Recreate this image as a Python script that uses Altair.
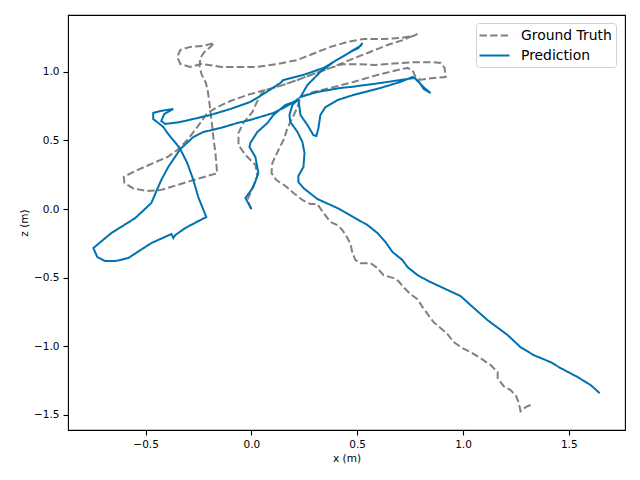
import altair as alt
import pandas as pd
import numpy as np

# Ground truth trajectory (x, z in metres)
gt_x = [0.000, -0.019, 0.005, 0.028, 0.019, -0.028, -0.061, -0.061, -0.038, 0.005, 0.024, 0.045,
        0.066, 0.137, 0.218, 0.293, 0.374, 0.454, 0.549, 0.643, 0.719, 0.785,
        0.766, 0.705, 0.624, 0.530, 0.454, 0.374, 0.312, 0.218, 0.123, 0.028, -0.052, -0.142,
        -0.237, -0.289, -0.336, -0.350, -0.336, -0.289, -0.227, -0.175,
        -0.194, -0.222, -0.241, -0.245, -0.235, -0.215, -0.205, -0.198, -0.192, -0.185, -0.178,
        -0.170, -0.165, -0.162,
        -0.208, -0.274, -0.350, -0.430, -0.492, -0.558, -0.600, -0.603, -0.539, -0.464, -0.397,
        -0.350, -0.303, -0.255, -0.208, -0.161, -0.099, -0.019, 0.066,
        0.137, 0.218, 0.293, 0.374,
        0.430, 0.500, 0.580, 0.670, 0.770, 0.860, 0.895, 0.913, 0.918, 0.861, 0.799, 0.776,
        0.762, 0.738, 0.691, 0.596, 0.482, 0.374, 0.293, 0.232,
        0.218, 0.194, 0.170, 0.156, 0.128, 0.099, 0.095, 0.118, 0.161, 0.199, 0.241, 0.279,
        0.312, 0.341, 0.374, 0.407, 0.430, 0.454, 0.468, 0.478, 0.492, 0.516, 0.563, 0.596,
        0.624, 0.672, 0.695, 0.719, 0.752, 0.785, 0.809, 0.833, 0.861, 0.894, 0.927, 0.956,
        0.998, 1.036, 1.083, 1.131, 1.164, 1.164, 1.192, 1.225, 1.249, 1.263, 1.272, 1.296, 1.329]
gt_z = [0.000, 0.066, 0.153, 0.241, 0.321, 0.394, 0.466, 0.554, 0.627, 0.707, 0.773, 0.835,
        0.867, 0.897, 0.940, 0.984, 1.028, 1.079, 1.137, 1.195, 1.232, 1.276,
        1.261, 1.246, 1.239, 1.239, 1.217, 1.181, 1.144, 1.086, 1.057, 1.035, 1.035, 1.035,
        1.057, 1.035, 1.057, 1.108, 1.159, 1.181, 1.188, 1.210,
        1.181, 1.144, 1.101, 1.040, 0.980, 0.920, 0.850, 0.770, 0.690, 0.600, 0.500,
        0.410, 0.320, 0.260,
        0.241, 0.211, 0.175, 0.138, 0.131, 0.150, 0.190, 0.235, 0.284, 0.335, 0.379,
        0.430, 0.503, 0.598, 0.700, 0.743, 0.787, 0.831, 0.867,
        0.897, 0.940, 0.984, 1.028,
        1.055, 1.055, 1.050, 1.060, 1.070, 1.070, 1.064, 1.028, 0.962, 0.955, 0.942, 0.962,
        1.010, 1.028, 1.013, 0.977, 0.926, 0.882, 0.853, 0.816,
        0.743, 0.664, 0.590, 0.517, 0.430, 0.335, 0.262, 0.211, 0.168, 0.117, 0.066, 0.036,
        0.036, -0.029, -0.095, -0.117, -0.153, -0.211, -0.255, -0.321, -0.372, -0.394, -0.394, -0.430,
        -0.481, -0.503, -0.525, -0.569, -0.620, -0.656, -0.714, -0.765, -0.824, -0.867, -0.911, -0.969,
        -1.013, -1.042, -1.086, -1.137, -1.188, -1.232, -1.290, -1.319, -1.356, -1.407, -1.472, -1.443, -1.421]

# Predicted trajectory (x, z in metres)
pred_x = [0.000, -0.028, 0.009, 0.033, 0.019, -0.009, -0.005, 0.028, 0.076, 0.104, 0.161, 0.199, 0.222,
          0.232, 0.265, 0.293, 0.307, 0.317, 0.326, 0.350, 0.407, 0.482, 0.610, 0.705, 0.762,
          0.790, 0.814, 0.847, 0.818, 0.771, 0.705, 0.610, 0.468, 0.421, 0.312, 0.232,
          0.265, 0.326, 0.388, 0.445, 0.482, 0.516, 0.525,
          0.506, 0.468, 0.421, 0.341, 0.246, 0.151, 0.137, 0.057, -0.005, -0.099, -0.194, -0.255,
          -0.336, -0.407, -0.426, -0.412, -0.369, -0.430, -0.464, -0.464, -0.440, -0.416, -0.397,
          -0.350, -0.336, -0.303, -0.274, -0.251, -0.213, -0.241, -0.312, -0.360, -0.369, -0.378,
          -0.473, -0.582, -0.643, -0.691, -0.728, -0.747, -0.662, -0.549, -0.473, -0.426, -0.393,
          -0.336, -0.274, -0.227, -0.147, -0.066, -0.005, 0.104, 0.151, 0.218,
          0.194, 0.180, 0.184, 0.218, 0.241, 0.251, 0.246, 0.222, 0.222, 0.246, 0.312, 0.407,
          0.482, 0.549, 0.596, 0.634, 0.667, 0.714, 0.738, 0.785, 0.837, 0.908, 0.989, 1.036,
          1.116, 1.211, 1.272, 1.334, 1.414, 1.462, 1.542, 1.604, 1.646]
pred_z = [0.000, 0.080, 0.160, 0.262, 0.379, 0.452, 0.481, 0.561, 0.627, 0.685, 0.758, 0.780, 0.802,
          0.685, 0.612, 0.539, 0.532, 0.590, 0.685, 0.743, 0.794, 0.831, 0.882, 0.926, 0.962,
          0.933, 0.875, 0.845, 0.882, 0.955, 0.940, 0.918, 0.889, 0.882, 0.853, 0.816,
          0.904, 0.999, 1.071, 1.122, 1.159, 1.188, 1.210,
          1.173, 1.144, 1.101, 1.028, 0.977, 0.940, 0.918, 0.838, 0.780, 0.729, 0.685, 0.663,
          0.634, 0.620, 0.641, 0.692, 0.729, 0.714, 0.700, 0.656, 0.627, 0.598, 0.554,
          0.466, 0.437, 0.335, 0.211, 0.087, -0.058, -0.080, -0.138, -0.190, -0.211, -0.182,
          -0.248, -0.357, -0.379, -0.379, -0.350, -0.284, -0.175, -0.066, 0.044, 0.211, 0.306,
          0.437, 0.525, 0.561, 0.590, 0.627, 0.649, 0.700, 0.736, 0.794,
          0.758, 0.685, 0.634, 0.561, 0.488, 0.408, 0.306, 0.241, 0.197, 0.153, 0.073, 0.007,
          -0.058, -0.117, -0.175, -0.241, -0.313, -0.372, -0.423, -0.481, -0.525, -0.576, -0.634, -0.700,
          -0.809, -0.918, -1.006, -1.064, -1.115, -1.159, -1.224, -1.283, -1.341]

series_names = ["Ground Truth", "Prediction"]
series_colors = ["#808080", "#0072B2"]

df = pd.concat([
    pd.DataFrame({"x": gt_x, "z": gt_z, "series": series_names[0], "i": range(len(gt_x))}),
    pd.DataFrame({"x": pred_x, "z": pred_z, "series": series_names[1], "i": range(len(pred_x))}),
], ignore_index=True)

allx = np.array(gt_x + pred_x)
allz = np.array(gt_z + pred_z)
mx = 0.05 * (allx.max() - allx.min())
mz = 0.05 * (allz.max() - allz.min())
xdom = [float(allx.min() - mx), float(allx.max() + mx)]
zdom = [float(allz.min() - mz), float(allz.max() + mz)]

legend = alt.Legend(
    title=None, orient="none", legendX=408, legendY=8,
    symbolType="M-2,0H2", symbolSize=225, symbolStrokeWidth=2,
    symbolOffset=6, labelOffset=18,
    labelFontSize=13.9, labelFont="DejaVu Sans", labelColor="black",
    strokeColor="#d0d0d0", fillColor="white", padding=4, cornerRadius=3,
    rowPadding=4,
)

chart = alt.Chart(df).mark_line(strokeWidth=2).encode(
    x=alt.X("x:Q", scale=alt.Scale(domain=xdom, nice=False, zero=False),
            axis=alt.Axis(title="x (m)", values=[-0.5, 0.0, 0.5, 1.0, 1.5], format=".1f")),
    y=alt.Y("z:Q", scale=alt.Scale(domain=zdom, nice=False, zero=False),
            axis=alt.Axis(title="z (m)", values=[-1.5, -1.0, -0.5, 0.0, 0.5, 1.0], format=".1f")),
    color=alt.Color("series:N", scale=alt.Scale(domain=series_names, range=series_colors), legend=legend),
    strokeDash=alt.StrokeDash("series:N", scale=alt.Scale(domain=series_names, range=[[7.4, 3.2], [1, 0]]), legend=legend),
    order="i:Q",
).properties(
    width=557, height=415,
    autosize=alt.AutoSizeParams(type="none"),
    padding={"left": 60, "top": 7, "right": 7, "bottom": 42},
).configure_view(
    stroke="black", strokeWidth=1.1
).configure_axis(
    domain=False, grid=False, ticks=True, tickColor="black", tickSize=5, tickWidth=1.1,
    labelFont="DejaVu Sans", labelFontSize=10.5, labelColor="black", labelPadding=4,
    labelFlush=False, labelOverlap=False,
    titleFont="DejaVu Sans", titleFontSize=10.5, titleFontWeight="normal", titleColor="black",
    titlePadding=4,
)

chart.save("out.html", embed_options={"renderer": "svg", "actions": False})
